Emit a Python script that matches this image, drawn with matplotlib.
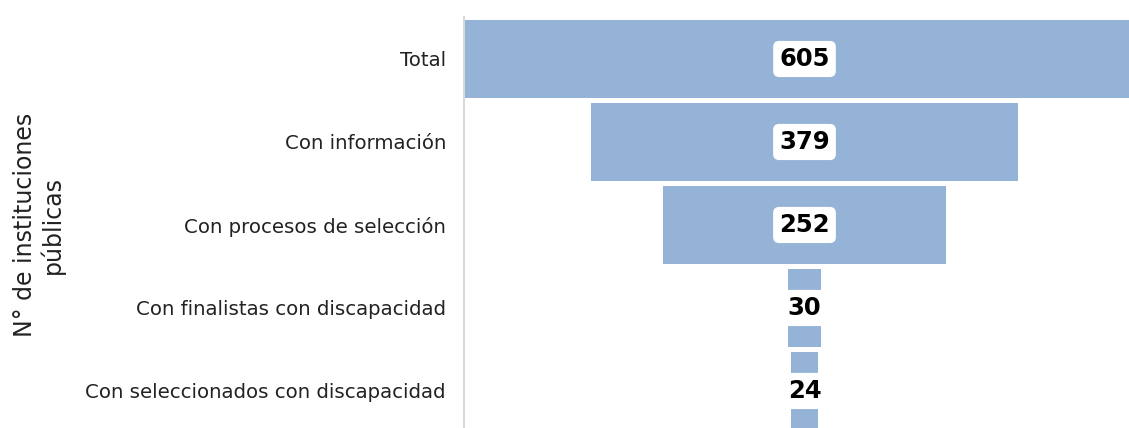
import matplotlib
matplotlib.use("Agg")
import matplotlib.pyplot as plt

stages = ["Total", "Con información", "Con procesos de selección",
          "Con finalistas con discapacidad", "Con seleccionados con discapacidad"]
values = [605, 379, 252, 30, 24]
y_title = "N° de instituciones\npúblicas"

bar_color = "#95B3D7"
W, H = 1129, 428
fig = plt.figure(figsize=(W / 100, H / 100), dpi=100)
ax = fig.add_axes([464 / W, 0, 681 / W, (H - 17) / H])

ypos = list(range(len(stages)))
lefts = [-v / 2 for v in values]
ax.barh(ypos, values, left=lefts, height=0.95, color=bar_color, zorder=2)

vmax = max(values)
ax.set_xlim(-vmax / 2, vmax / 2)
ax.set_ylim(len(stages) - 0.554, -0.506)

for y, v in zip(ypos, values):
    ax.text(0, y, str(v), ha="center", va="center", fontsize=17.5, fontweight="bold",
            color="black", zorder=3,
            bbox=dict(boxstyle="round,pad=0.25,rounding_size=0.25", fc="white", ec="none"))

ax.set_yticks(ypos)
ax.set_yticklabels(stages, fontsize=14.2, color="#222222")
ax.tick_params(axis="y", length=0, pad=13)
ax.set_xticks([])
for s in ["top", "right", "bottom"]:
    ax.spines[s].set_visible(False)
ax.spines["left"].set_color("#d9d9d9")
ax.spines["left"].set_linewidth(1.5)

fig.text(39 / W, 1 - 225 / H, y_title, rotation=90, ha="center", va="center",
         fontsize=17, color="#222222", multialignment="center", linespacing=1.1)

fig.savefig("out.png", dpi=100)
